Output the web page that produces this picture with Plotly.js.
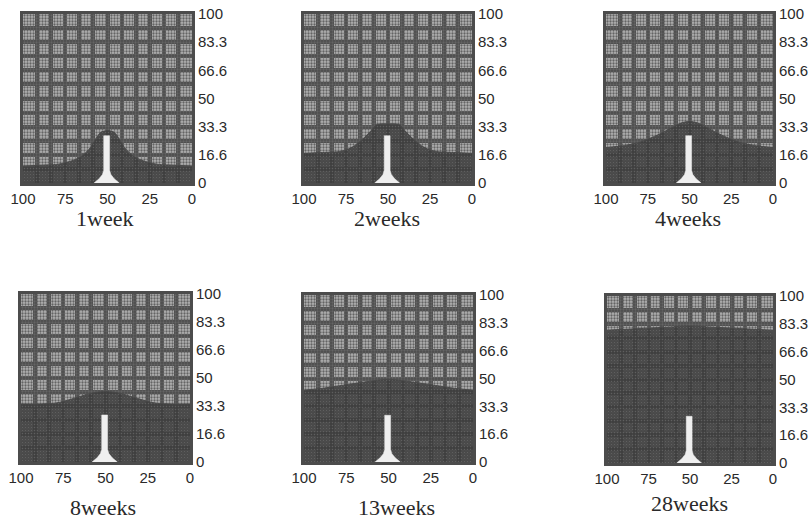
<!DOCTYPE html>
<html><head><meta charset="utf-8">
<script src="https://cdn.plot.ly/plotly-3.0.1.min.js"></script>
<style>html,body{margin:0;padding:0;background:#fff;}#chart{width:809px;height:519px;}</style>
</head><body><div id="chart"></div>
<script>
// ---- data ----
const panelTitles = ['1week', '2weeks', '4weeks', '8weeks', '13weeks', '28weeks'];
const xTickVals = [100, 75, 50, 25, 0];
const xTickText = ['100', '75', '50', '25', '0'];
const yTickVals = [0, 16.667, 33.333, 50, 66.667, 83.333, 100];
const yTickText = ['0', '16.6', '33.3', '50', '66.6', '83.3', '100'];

const prof1X = [0, 10, 20, 25, 30, 35, 40, 43, 46, 50, 54, 57, 60, 65, 70, 75, 80, 90, 100];
const prof1Y = [10, 10.5, 11, 12, 13.5, 16, 21, 26, 30, 31, 30, 26, 21, 16, 13.5, 12, 11, 10.5, 10];
const prof2X = [0, 10, 20, 25, 30, 35, 40, 43, 50, 57, 60, 65, 70, 75, 80, 90, 100];
const prof2Y = [17.5, 18, 18.5, 19.5, 22, 26, 31, 34.5, 35, 34.5, 31, 26, 22, 19.5, 18.5, 18, 17.5];
const prof3X = [0, 10, 20, 30, 40, 45, 50, 55, 60, 70, 80, 90, 100];
const prof3Y = [21, 22, 24, 28, 33, 35.5, 36.5, 35.5, 33, 28, 24, 22, 21];
const prof4X = [0, 10, 20, 25, 30, 35, 40, 45, 50, 55, 60, 65, 70, 75, 80, 90, 100];
const prof4Y = [34.5, 34.5, 35, 36, 37.5, 39, 40.5, 41.5, 42, 41.5, 40.5, 39, 37.5, 36, 35, 34.5, 34.5];
const prof5X = [0, 10, 20, 30, 40, 50, 60, 70, 80, 90, 100];
const prof5Y = [43, 44, 45.5, 47, 48.5, 49.5, 48.5, 47, 45.5, 44, 43];
const prof6X = [0, 20, 40, 50, 60, 80, 100];
const prof6Y = [79.5, 80.5, 81.5, 82, 81.5, 80.5, 79.5];

const stemX = [58, 55, 53, 52.25, 52.25, 48.75, 48.75, 48, 46, 43];
const stemY = [0, 2.5, 5, 7.5, 28, 28, 7.5, 5, 2.5, 0];

const profX = [prof1X, prof2X, prof3X, prof4X, prof5X, prof6X];
const profY = [prof1Y, prof2Y, prof3Y, prof4Y, prof5Y, prof6Y];

// ---- layout geometry (pixels) ----
const W = 809, H = 519;
const boxes = [[23,14,192,183],[304,14,472,183],[606,14,773,183],
               [21,294,190,462],[304,295,473,462],[607,296,773,463]];
const titlePos = [[104,218],[387,218],[688,218],[103,507],[396,507],[689,503]];

const GRID = '#4c4c4c';
const TXT = '#2a2a2a';
const traces = [];
const layout = {
  width: W, height: H, margin: {l:0, r:0, t:0, b:0},
  paper_bgcolor: '#ffffff', plot_bgcolor: '#b2b2b2',
  showlegend: false, annotations: []
};

boxes.forEach((b, i) => {
  const sfx = i === 0 ? '' : String(i + 1);
  const xa = 'x' + sfx, ya = 'y' + sfx;
  // upper dither texture
  traces.push({
    type: 'scatter', mode: 'none', x: [0, 100], y: [100, 100], fill: 'tozeroy',
    fillcolor: 'rgba(0,0,0,0)',
    fillpattern: {shape: '.', fgcolor: '#646464', bgcolor: 'rgba(0,0,0,0)', size: 3, solidity: 0.45},
    xaxis: xa, yaxis: ya, hoverinfo: 'skip'
  });
  // dark lower region
  traces.push({
    type: 'scatter', mode: 'lines', x: profX[i], y: profY[i], fill: 'tozeroy',
    line: {color: '#484848', width: 1, shape: 'spline', smoothing: 0.6},
    fillcolor: 'rgba(60,60,60,0.86)',
    fillpattern: {shape: '.', fgcolor: '#7c7c7c', size: 3, solidity: 0.18, fillmode: 'overlay'},
    xaxis: xa, yaxis: ya, hoverinfo: 'skip'
  });
  // white stem
  traces.push({
    type: 'scatter', mode: 'lines', x: stemX, y: stemY, fill: 'toself',
    line: {color: '#efefef', width: 0.5}, fillcolor: '#efefef',
    xaxis: xa, yaxis: ya, hoverinfo: 'skip'
  });

  layout['xaxis' + sfx] = {
    domain: [b[0] / W, b[2] / W], anchor: ya, range: [100, 0], fixedrange: true,
    tickmode: 'array', tickvals: xTickVals, ticktext: xTickText, ticks: '',
    tickfont: {family: 'Liberation Sans, Arial, sans-serif', size: 15, color: TXT},
    showgrid: true, gridcolor: GRID, gridwidth: 4, zeroline: false,
    showline: true, linecolor: GRID, linewidth: 3, mirror: true,
    minor: {tickmode: 'linear', tick0: 0, dtick: 100 / 12, showgrid: true, gridcolor: GRID, gridwidth: 4, ticks: ''}
  };
  layout['yaxis' + sfx] = {
    domain: [1 - b[3] / H, 1 - b[1] / H], anchor: xa, side: 'right', range: [0, 100], fixedrange: true,
    tickmode: 'array', tickvals: yTickVals, ticktext: yTickText, ticks: '',
    tickfont: {family: 'Liberation Sans, Arial, sans-serif', size: 15, color: TXT},
    showgrid: true, gridcolor: GRID, gridwidth: 4, zeroline: false,
    showline: true, linecolor: GRID, linewidth: 3, mirror: true,
    minor: {tickmode: 'linear', tick0: 0, dtick: 100 / 12, showgrid: true, gridcolor: GRID, gridwidth: 4, ticks: ''}
  };
  layout.annotations.push({
    xref: 'paper', yref: 'paper', x: titlePos[i][0] / W, y: 1 - titlePos[i][1] / H,
    xanchor: 'center', yanchor: 'middle', showarrow: false, text: panelTitles[i],
    font: {family: 'Liberation Serif, Times New Roman, serif', size: 22, color: TXT}
  });
});

Plotly.newPlot('chart', traces, layout, {staticPlot: true, displayModeBar: false});
</script>
</body></html>
